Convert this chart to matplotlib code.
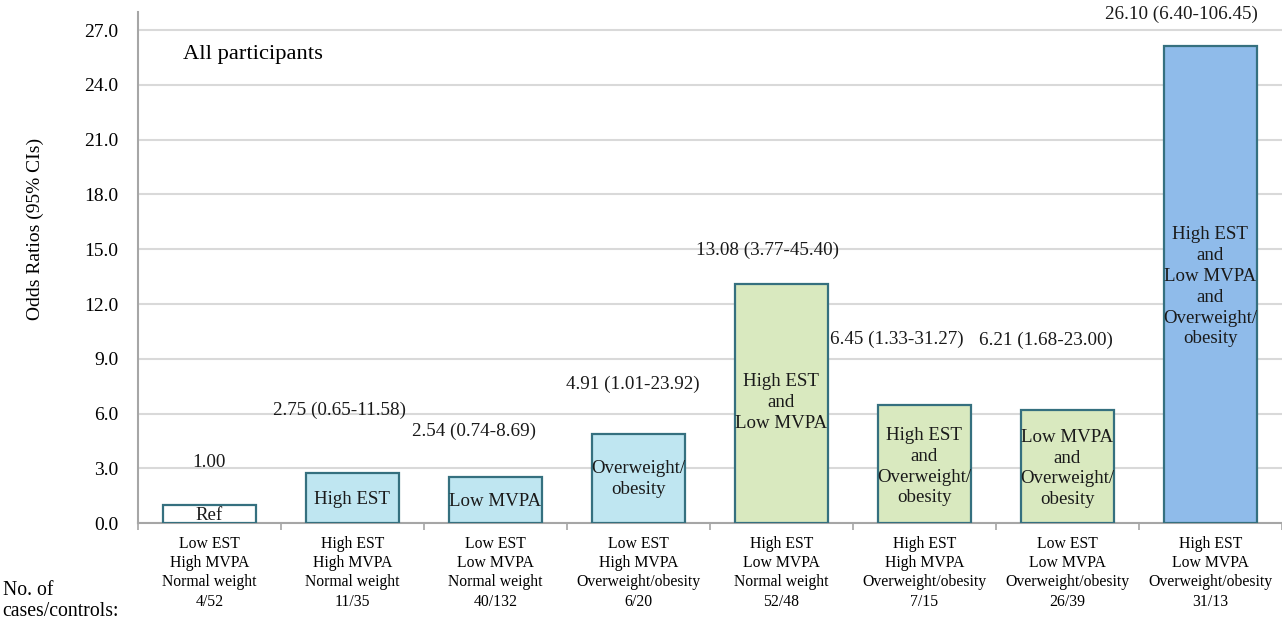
import matplotlib.pyplot as plt
import numpy as np

# data
groups = [
    "Low EST\nHigh MVPA\nNormal weight\n4/52",
    "High EST\nHigh MVPA\nNormal weight\n11/35",
    "Low EST\nLow MVPA\nNormal weight\n40/132",
    "Low EST\nHigh MVPA\nOverweight/obesity\n6/20",
    "High EST\nLow MVPA\nNormal weight\n52/48",
    "High EST\nHigh MVPA\nOverweight/obesity\n7/15",
    "Low EST\nLow MVPA\nOverweight/obesity\n26/39",
    "High EST\nLow MVPA\nOverweight/obesity\n31/13",
]
odds = [1.00, 2.75, 2.54, 4.91, 13.08, 6.45, 6.21, 26.10]
ci_text = ["1.00", "2.75 (0.65-11.58)", "2.54 (0.74-8.69)", "4.91 (1.01-23.92)",
           "13.08 (3.77-45.40)", "6.45 (1.33-31.27)", "6.21 (1.68-23.00)",
           "26.10 (6.40-106.45)"]
inner = ["Ref", "High EST", "Low MVPA", "Overweight/\nobesity",
         "High EST\nand\nLow MVPA", "High EST\nand\nOverweight/\nobesity",
         "Low MVPA\nand\nOverweight/\nobesity",
         "High EST\nand\nLow MVPA\nand\nOverweight/\nobesity"]
yticks = np.arange(0, 28, 3.0)

# styling
colors = ["white", "#bfe6f1", "#bfe6f1", "#bfe6f1",
          "#d9e9bf", "#d9e9bf", "#d9e9bf", "#8fbbea"]
edge = "#35707f"
label_dy = [2.35, 3.45, 2.5, 2.7, 1.85, 3.6, 3.8, 1.75]   # CI label height above bar
label_dx = [0, -0.09, -0.15, -0.04, -0.1, -0.19, -0.15, -0.2]
inner_y = [0.44, 1.3, 1.2, 2.4, 6.6, 3.1, 3.0, 12.95]

plt.rcParams['font.family'] = ['Liberation Serif', 'DejaVu Serif']

fig = plt.figure(figsize=(12.82, 6.2), dpi=100)
ax = fig.add_axes([0.1076, 0.156, 0.8924, 0.825])

x = np.arange(len(odds))
ax.bar(x, odds, width=0.65, color=colors, edgecolor=edge, linewidth=1.6, zorder=3)

for i in range(len(odds)):
    ax.text(i + label_dx[i], odds[i] + label_dy[i], ci_text[i], ha='center', va='center',
            fontsize=13.8, color='#1a1a1a')
    ax.text(i, inner_y[i], inner[i], ha='center', va='center', fontsize=13.6,
            linespacing=1.3, color='#1a1a1a', zorder=4)

ax.set_xlim(-0.5, 7.5)
ax.set_ylim(0, 28)
ax.set_yticks(yticks)
ax.set_yticklabels([f"{v:.1f}" for v in yticks], fontsize=14)
ax.tick_params(axis='y', length=0, pad=14)
ax.yaxis.grid(True, color='#d9d9d9', linewidth=1.5, zorder=0)

ax.set_xticks(x)
ax.set_xticklabels(groups, fontsize=11.3, linespacing=1.27)
ax.set_xticks(np.arange(-0.5, 8, 1), minor=True)
ax.tick_params(axis='x', which='major', length=0, pad=9)
ax.tick_params(axis='x', which='minor', length=5, width=1.2, color='#a6a6a6')

for s in ['top', 'right']:
    ax.spines[s].set_visible(False)
for s in ['left', 'bottom']:
    ax.spines[s].set_color('#a6a6a6')
    ax.spines[s].set_linewidth(1.5)

ax.set_ylabel("Odds Ratios (95% CIs)", fontsize=14)
ax.yaxis.set_label_coords(-0.082, 0.575)

ax.text(0.039, 0.916, "All participants", transform=ax.transAxes, fontsize=16.2,
        va='center', ha='left')

fig.text(0.002, 0.006, "No. of\ncases/controls:", fontsize=14.2, ha='left', va='baseline',
         linespacing=1.17)

fig.savefig("out.png", dpi=100)
